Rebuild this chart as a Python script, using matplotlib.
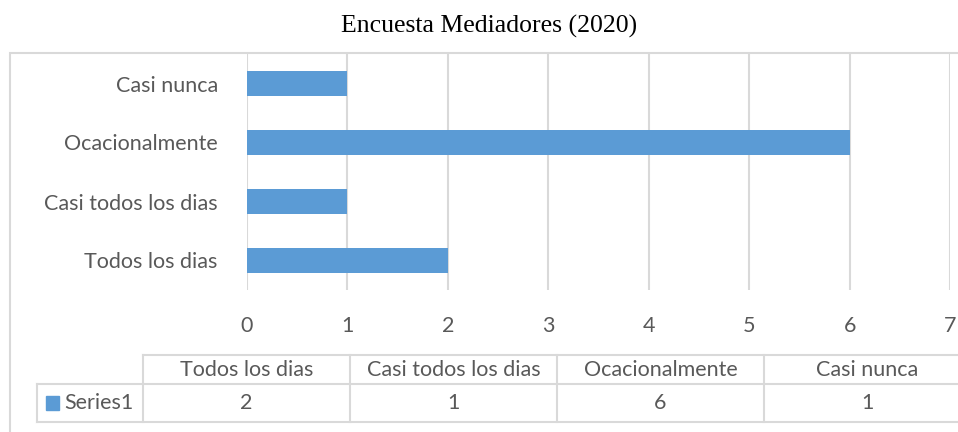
import matplotlib
matplotlib.use("Agg")
import matplotlib.pyplot as plt
from matplotlib.lines import Line2D
from matplotlib.patches import Rectangle

categories = ["Todos los dias", "Casi todos los dias", "Ocacionalmente", "Casi nunca"]
values = [2, 1, 6, 1]
series_name = "Series1"
xticks = [0, 1, 2, 3, 4, 5, 6, 7]
title = "Encuesta Mediadores (2020)"

W, H = 958, 432
BAR = "#5B9BD5"
GRID = "#D9D9D9"
TXT = "#595959"
FONT = "Lato"
FS = 15.5


def fx(px):
    return px / W


def fy(py):
    return 1 - py / H


fig = plt.figure(figsize=(W / 100, H / 100), dpi=100)

# outer chart frame (cut by the image edge on the right and bottom)
fig.patches.append(Rectangle((fx(10), fy(460)), fx(1000) - fx(10), fy(53) - fy(460),
                             transform=fig.transFigure, fill=False,
                             edgecolor=GRID, lw=1.5))

fig.text(fx(489), fy(26), title, ha="center", va="center",
         family="Liberation Serif", fontsize=18.5, color="black")

ax = fig.add_axes([fx(247), fy(290), fx(950) - fx(247), fy(54) - fy(290)])
ypos = list(range(len(categories)))
ax.barh(ypos, values, height=0.41, color=BAR, zorder=3)
ax.set_xlim(0, 7)
ax.set_ylim(-0.5, len(categories) - 0.5)
ax.set_xticks(xticks)
ax.set_xticklabels([str(t) for t in xticks], family=FONT, fontsize=FS, color=TXT)
ax.set_yticks(ypos)
ax.set_yticklabels(categories, family=FONT, fontsize=FS, color=TXT)
ax.tick_params(axis="both", length=0)
ax.tick_params(axis="x", pad=19)
ax.tick_params(axis="y", pad=21)
ax.grid(axis="x", color=GRID, lw=1.5, zorder=0)
for s in ax.spines.values():
    s.set_visible(False)

# data table under the chart
col_w = 207
col0 = 143
right = col0 + col_w * len(categories)
y_top, y_mid, y_bot = 355, 384, 422
lines = [
    ((col0, right), (y_top, y_top)),
    ((37, right), (y_mid, y_mid)),
    ((37, right), (y_bot, y_bot)),
    ((37, 37), (y_mid, y_bot)),
]
for i in range(len(categories) + 1):
    xc = col0 + col_w * i
    lines.append(((xc, xc), (y_top, y_bot)))
for xs, ys in lines:
    fig.lines.append(Line2D([fx(x) for x in xs], [fy(y) for y in ys],
                            transform=fig.transFigure, color=GRID, lw=1.5))

for i, (cat, v) in enumerate(zip(categories, values)):
    xc = col0 + col_w * (i + 0.5)
    fig.text(fx(xc), fy((y_top + y_mid) / 2), cat, ha="center", va="center",
             family=FONT, fontsize=FS, color=TXT)
    fig.text(fx(xc), fy((y_mid + y_bot) / 2), str(v), ha="center", va="center",
             family=FONT, fontsize=FS, color=TXT)

fig.patches.append(Rectangle((fx(46), fy(410)), fx(13), fy(396) - fy(410),
                             transform=fig.transFigure, color=BAR))
fig.text(fx(64), fy((y_mid + y_bot) / 2), series_name, ha="left", va="center",
         family=FONT, fontsize=FS, color=TXT)

fig.savefig("out.png", dpi=100)
